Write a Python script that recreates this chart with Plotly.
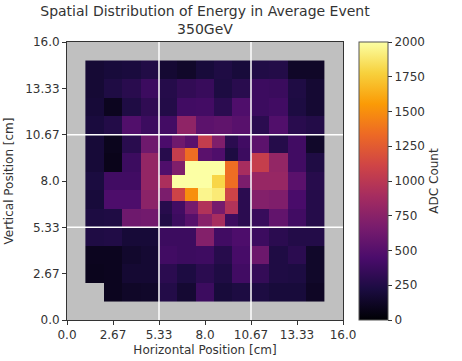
import plotly.graph_objects as go

N = None
# Coarse 13x13 tower grid (rows listed top -> bottom, columns left -> right); centre 5x5 replaced by fine module
outer_adc = [
    [180, 200, 210, 250, 170, 140, 200, 240, 200, 250, 260, 130, 130],
    [180, 240, 290, 380, 270, 330, 360, 230, 290, 380, 370, 240, 170],
    [190, 100, 240, 320, 260, 400, 410, 300, 470, 380, 400, 230, 170],
    [210, 260, 480, 380, 410, 780, 530, 550, 510, 300, 480, 290, 260],
    [190,  90, 290, 620, N, N, N, N, N, 530, 270, 400, 140],
    [190,  80, 380, 800, N, N, N, N, N, 1060, 800, 400, 240],
    [220, 400, 400, 800, N, N, N, N, N, 820, 820, 520, 280],
    [200, 460, 460, 760, N, N, N, N, N, 720, 700, 440, 270],
    [230, 240, 620, 640, N, N, N, N, N, 360, 560, 400, 270],
    [240, 250, 190, 190, 380, 380, 720, 400, 460, 380, 300, 260, 260],
    [100, 100, 150, 170, 400, 380, 390, 280, 430, 610, 240, 300, 140],
    [ 90, 100, 170, 170, 300, 230, 300, 240, 400, 340, 240, 230, 140],
    [  N, 100, 130, 140, 260, 170, 380, 200, 230, 230, 200, 200, 120],
]
# Fine 7x7 central module (rows top -> bottom)
center_adc = [
    [450,  620,  520, 1050,  700,  300, 400],
    [280, 1050, 1350,  520,  470,  230, 380],
    [470,  700, 2100, 2100, 2100, 1350, 900],
    [920, 2100, 2100, 2100, 1800, 1350, 680],
    [680, 1100, 1500, 1950, 1900, 1100, 300],
    [280,  400,  650,  950,  650,  950, 300],
    [250,  380,  500,  740,  900,  380, 300],
]
tick_vals = [0, 8/3, 16/3, 8, 32/3, 40/3, 16]
tick_text = ["0.0", "2.67", "5.33", "8.0", "10.67", "13.33", "16.0"]
cbar_ticks = [0, 250, 500, 750, 1000, 1250, 1500, 1750, 2000]

SIZE = 16.0
cell = SIZE / 15
n_out = len(outer_adc[0])
outer_edges = [cell * (i + 1) for i in range(n_out + 1)]
m0, m1 = SIZE / 3, 2 * SIZE / 3
n_in = len(center_adc[0])
inner_edges = [m0 + (m1 - m0) * i / n_in for i in range(n_in + 1)]

fig = go.Figure()
fig.add_trace(go.Heatmap(z=outer_adc[::-1], x=outer_edges, y=outer_edges,
                         coloraxis="coloraxis", hoverongaps=False))
fig.add_trace(go.Heatmap(z=center_adc[::-1], x=inner_edges, y=inner_edges,
                         coloraxis="coloraxis"))

for v in (m0, m1):
    fig.add_shape(type="line", x0=v, x1=v, y0=0, y1=SIZE, xref="x", yref="y",
                  line=dict(color="white", width=1.5), layer="above")
    fig.add_shape(type="line", x0=0, x1=SIZE, y0=v, y1=v, xref="x", yref="y",
                  line=dict(color="white", width=1.5), layer="above")

axis_common = dict(range=[0, SIZE], tickvals=tick_vals, ticktext=tick_text,
                   showgrid=False, zeroline=False, showline=True, mirror=True,
                   linecolor="#333333", linewidth=1, ticks="outside", ticklen=4,
                   tickcolor="#333333", tickfont=dict(size=12, color="#333333"),
                   automargin=False)

fig.update_layout(
    width=462, height=361,
    margin=dict(l=67, r=119, t=42, b=41, autoexpand=False),
    paper_bgcolor="white", plot_bgcolor="#c0c0c0",
    font=dict(family="DejaVu Sans", color="#333333"),
    title=dict(text="Spatial Distribution of Energy in Average Event<br>350GeV",
               x=0.5, xref="paper", xanchor="center",
               y=1 - 16 / 361, yref="container", yanchor="top",
               font=dict(size=14, color="#333333")),
    xaxis=dict(**axis_common, title=dict(text="Horizontal Position [cm]",
                                         font=dict(size=12), standoff=4)),
    yaxis=dict(**axis_common, title=dict(text="Vertical Position [cm]",
                                         font=dict(size=12), standoff=9)),
    coloraxis=dict(colorscale="Inferno", cmin=0, cmax=2000,
                   colorbar=dict(x=1.059, xanchor="left", y=0.5, yanchor="middle",
                                 len=1, lenmode="fraction", thickness=29,
                                 xpad=0, ypad=0,
                                 outlinewidth=1, outlinecolor="#555555",
                                 tickvals=cbar_ticks, ticks="outside", ticklen=4,
                                 tickcolor="#333333",
                                 tickfont=dict(size=12, color="#333333"),
                                 title=dict(text="ADC Count", side="right",
                                            font=dict(size=12, color="#333333")))),
)

fig.write_html("out.html")
